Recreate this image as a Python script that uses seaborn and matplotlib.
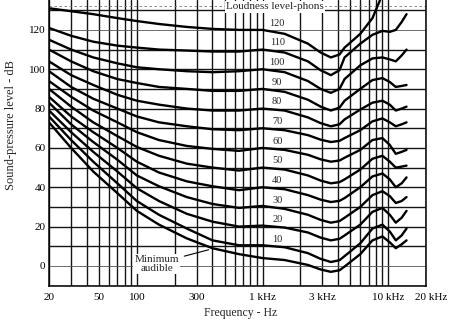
import numpy as np
import pandas as pd
import matplotlib
matplotlib.use("Agg")
import matplotlib.pyplot as plt
import matplotlib.ticker as mticker
import matplotlib.transforms as mtransforms
import seaborn as sns

# ---------------- data ----------------
freq_hz = [20, 30, 45, 70, 100, 150, 250, 400, 650, 1000, 1500, 2300, 2900,
           3500, 4100, 4500, 6000, 7500, 9000, 10300, 11500, 12800, 14000]

spl_min = [73, 60, 48, 37, 28, 21, 14, 9, 6, 4, 3, 0.5, -1.8, -3, -2.2, -0.3, 6, 13, 15, 12, 9, 11, 13]
spl_10 = [76, 64, 53, 42, 33, 26, 19, 13, 10.5, 10.5, 9.5, 6.5, 3.6, 2, 2.9, 5, 11.5, 19, 21, 17.5, 13, 15.5, 19]
spl_20 = [79, 68, 58, 48, 39.5, 33, 26.5, 22.5, 20, 20.5, 19.5, 17, 14.4, 13, 13.8, 15.5, 21, 27.5, 29.5, 26, 22, 24.5, 28]
spl_30 = [83, 72, 63, 54, 46, 40.5, 35, 31.5, 29.5, 30.5, 29, 26, 23.4, 22, 22.8, 24.5, 30, 36, 38, 35.5, 32, 33, 35]
spl_40 = [86, 76, 68, 60, 53, 47.5, 43, 40.5, 38.5, 40, 39, 36, 33.7, 32.5, 33.1, 34.5, 40, 45.5, 47, 44, 40, 42, 45]
spl_50 = [90, 81, 73, 66, 60.5, 56, 52, 50, 48.5, 50, 49, 46, 43.4, 42, 42.6, 44, 49, 54.5, 56, 53, 50, 50.5, 51]
spl_60 = [94, 86, 79, 73, 68, 64, 61, 59.5, 58.5, 60, 59, 56.5, 54.2, 53, 53.6, 55, 59, 64, 65, 61.5, 57, 58, 59]
spl_70 = [99, 91, 85, 80, 76, 73, 71, 69.5, 69, 70, 69, 66.5, 64.2, 63, 63.6, 65, 69, 73.5, 75, 73, 71, 72, 73]
spl_80 = [104, 97, 92, 87, 84, 82, 80, 79, 79, 80, 79, 75.5, 72.6, 71, 72, 74.5, 79.5, 83, 84, 82, 79, 80, 81]
spl_90 = [110, 104, 99, 95, 93, 91, 90, 89, 89, 90, 88.5, 84.5, 81, 79, 80.5, 84, 90, 94.5, 95.5, 93.5, 91, 91.5, 92]
spl_100 = [115, 110, 106, 103, 101, 100, 99, 98.5, 99, 100, 98.5, 94, 90, 88, 90, 95, 102, 105.5, 106, 105, 104, 107, 110]
spl_110 = [121, 117, 114, 112, 111, 110, 109.5, 109, 109, 110, 108.5, 104, 99.5, 97, 99.5, 106, 113, 117.5, 119.5, 119, 120, 124, 128]
spl_120 = [131, 129.5, 128, 126, 124.5, 123, 121.5, 120.5, 120, 120, 118, 113, 108.5, 106, 107.5, 111, 118, 126, 138,
           np.nan, np.nan, np.nan, np.nan]

phon_levels = [10, 20, 30, 40, 50, 60, 70, 80, 90, 100, 110, 120]
curve_names = ["min", "10", "20", "30", "40", "50", "60", "70", "80", "90", "100", "110", "120"]
curve_values = [spl_min, spl_10, spl_20, spl_30, spl_40, spl_50, spl_60,
                spl_70, spl_80, spl_90, spl_100, spl_110, spl_120]

x_tick_values = [20, 50, 100, 300, 1000, 3000, 10000, 20000]
x_tick_labels = ["20", "50", "100", "300", "1 kHz", "3 kHz", "10 kHz", "20 kHz"]
y_tick_values = [0, 20, 40, 60, 80, 100, 120]

# ---------------- build table ----------------
rows = []
for name, vals in zip(curve_names, curve_values):
    for f, v in zip(freq_hz, vals):
        rows.append({"freq": f, "spl": v, "curve": name})
df = pd.DataFrame(rows).dropna()

# ---------------- figure ----------------
sns.set_theme(style="white")
plt.rcParams["font.family"] = ["Liberation Serif", "DejaVu Serif"]

fig = plt.figure(figsize=(4.5, 3.24), dpi=100)
ax = fig.add_axes([49 / 450, 38 / 324, 377 / 450, 286 / 324])
ax.set_xscale("log")
ax.set_xlim(20, 20000)
ax.set_ylim(-10.2, 135.2)

# grid
grid_x = [m * d for d in (10, 100, 1000) for m in range(2, 10)] + [10000, 20000]
ax.xaxis.set_major_locator(mticker.FixedLocator(x_tick_values))
ax.xaxis.set_major_formatter(mticker.FixedFormatter(x_tick_labels))
ax.xaxis.set_minor_locator(mticker.FixedLocator(grid_x))
ax.xaxis.set_minor_formatter(mticker.NullFormatter())
ax.yaxis.set_major_locator(mticker.FixedLocator(y_tick_values))
ax.yaxis.set_minor_locator(mticker.MultipleLocator(10))
ax.grid(True, which="both", color="#151515", linewidth=1.0)
for gl, v in zip(ax.yaxis.get_gridlines(), y_tick_values):
    if v in (0, 120):
        gl.set_linewidth(0.6)
        gl.set_color("#555555")
ax.axhline(132, color="#777777", lw=0.6, ls=(0, (3, 3)), zorder=1)

sns.lineplot(data=df, x="freq", y="spl", units="curve", estimator=None,
             sort=False, color="black", linewidth=1.7, ax=ax, legend=False, zorder=3)

ax.tick_params(axis="both", which="both", length=0, labelsize=8, colors="black")
ax.tick_params(axis="x", pad=5)
ax.tick_params(axis="y", pad=2.5)

# shift last x label to the right, as in the scan, while keeping it inside
lbls = ax.get_xticklabels()
off = mtransforms.ScaledTranslation(5 / 100, 0, fig.dpi_scale_trans)
lbls[-1].set_transform(lbls[-1].get_transform() + off)

for s in ("left", "bottom", "right"):
    ax.spines[s].set_visible(True)
    ax.spines[s].set_color("black")
    ax.spines[s].set_linewidth(1.1)
ax.spines["top"].set_visible(False)

ax.set_xlabel("Frequency - Hz", fontsize=8.5)
ax.set_ylabel("Sound-pressure level - dB", fontsize=9)
ax.xaxis.set_label_coords(0.507, -0.072)
ax.yaxis.set_label_coords(-0.085, 0.563)

# curve labels
for L in phon_levels:
    ax.text(1310, L + 3.5, str(L), ha="center", va="center", fontsize=7.5, zorder=4)

ax.text(1260, 131.7, "Loudness level-phons", ha="center", va="center", fontsize=8,
        zorder=5, bbox=dict(facecolor="white", edgecolor="none", pad=1))

ax.text(144, 1.0, "Minimum\naudible", ha="center", va="center", fontsize=8,
        linespacing=1.0, zorder=5,
        bbox=dict(facecolor="white", edgecolor="none", pad=1))
ax.annotate("", xy=(392, 8.6), xytext=(227, 4.6),
            arrowprops=dict(arrowstyle="-", lw=0.8, color="black"), zorder=5)

fig.savefig("out.png", dpi=100)
